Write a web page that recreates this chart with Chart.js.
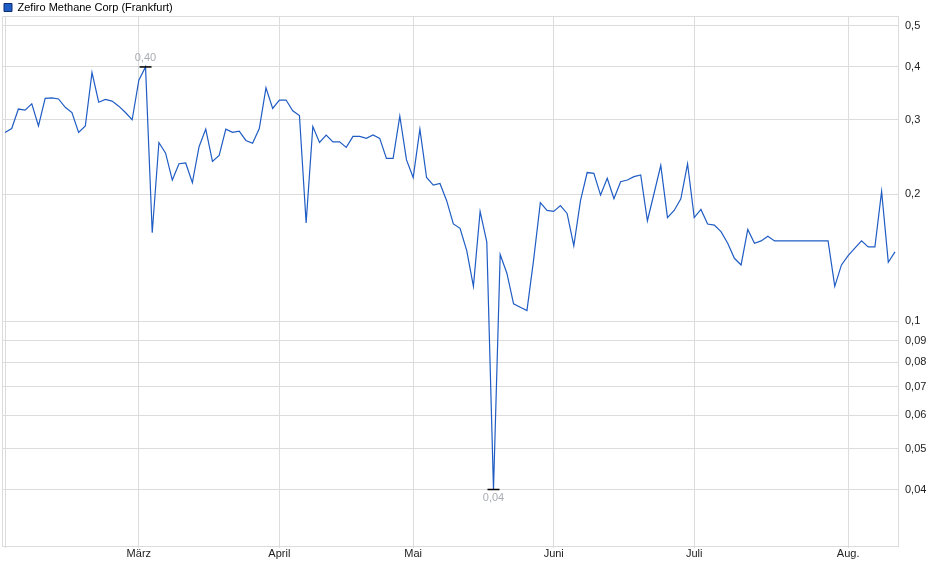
<!DOCTYPE html>
<html>
<head>
<meta charset="utf-8">
<script src="https://cdn.jsdelivr.net/npm/chart.js@4/dist/chart.umd.min.js"></script>
<style>
  body { margin: 0; background: #fff; }
  canvas { display: block; }
</style>
</head>
<body>
<canvas id="chart" width="940" height="579"></canvas>
<script>
const seriesName = "Zefiro Methane Corp (Frankfurt)";
const prices = [
  0.280, 0.286, 0.318, 0.316, 0.327, 0.290, 0.337, 0.338, 0.336, 0.321,
  0.312, 0.280, 0.290, 0.388, 0.330, 0.335, 0.332, 0.323, 0.312, 0.300,
  0.372, 0.400, 0.162, 0.265, 0.250, 0.216, 0.236, 0.237, 0.213, 0.259,
  0.285, 0.239, 0.247, 0.285, 0.280, 0.282, 0.268, 0.264, 0.286, 0.357,
  0.319, 0.334, 0.334, 0.315, 0.307, 0.171, 0.289, 0.265, 0.276, 0.266,
  0.266, 0.258, 0.274, 0.274, 0.271, 0.276, 0.271, 0.243, 0.243, 0.306,
  0.241, 0.219, 0.285, 0.219, 0.210, 0.212, 0.193, 0.170, 0.166, 0.147,
  0.121, 0.182, 0.154, 0.040, 0.144, 0.130, 0.110, 0.108, 0.106, 0.140,
  0.191, 0.183, 0.182, 0.188, 0.180, 0.151, 0.193, 0.225, 0.224, 0.199,
  0.218, 0.195, 0.214, 0.216, 0.220, 0.222, 0.173, 0.201, 0.234, 0.176,
  0.183, 0.195, 0.236, 0.176, 0.184, 0.170, 0.169, 0.163, 0.153, 0.141,
  0.136, 0.165, 0.153, 0.155, 0.159, 0.155, 0.155, 0.155, 0.155, 0.155,
  0.155, 0.155, 0.155, 0.155, 0.121, 0.136, 0.143, 0.149, 0.155, 0.150,
  0.150, 0.203, 0.138, 0.146
];
// Monatsanfang als Index des ersten Handelstages
const months = ["März", "April", "Mai", "Juni", "Juli", "Aug."];
const monthStarts = [20, 41, 61, 82, 103, 126];
const yTicks = [0.04, 0.05, 0.06, 0.07, 0.08, 0.09, 0.1, 0.2, 0.3, 0.4, 0.5];

const gridColor = "#dcdcdc";
const fontFamily = "'Liberation Sans', Arial, sans-serif";

const points = prices.map((v, i) => ({ x: i, y: v }));
const maxIdx = prices.indexOf(Math.max(...prices));
const minIdx = prices.indexOf(Math.min(...prices));
const fmt = (v, d) => (d == null ? String(v) : v.toFixed(d)).replace(".", ",");

// Rahmen oben/links, feste Legendenhoehe und Hoch/Tief-Beschriftung
const extras = {
  id: "extras",
  beforeUpdate(chart) {
    const lg = chart.legend;
    if (lg && !lg._fixed) {
      const fit = lg.fit.bind(lg);
      lg.fit = function () { fit(); this.height = 16; };
      lg._fixed = true;
    }
  },
  beforeDatasetsDraw(chart) {
    const { ctx, chartArea: a } = chart;
    ctx.save();
    ctx.strokeStyle = gridColor;
    ctx.lineWidth = 1;
    ctx.beginPath();
    ctx.moveTo(a.left + 0.5, a.bottom);
    ctx.lineTo(a.left + 0.5, a.top + 0.5);
    ctx.lineTo(a.right, a.top + 0.5);
    ctx.stroke();
    ctx.restore();
  },
  afterDatasetsDraw(chart) {
    const { ctx } = chart;
    const meta = chart.getDatasetMeta(0);
    ctx.save();
    ctx.font = "11px " + fontFamily;
    ctx.fillStyle = "#a8adb3";
    ctx.textAlign = "center";
    const hi = meta.data[maxIdx];
    ctx.textBaseline = "bottom";
    ctx.fillText(fmt(prices[maxIdx], 2), hi.x, hi.y - 3);
    const lo = meta.data[minIdx];
    ctx.textBaseline = "top";
    ctx.fillText(fmt(prices[minIdx], 2), lo.x, lo.y + 3);
    ctx.restore();
  }
};

new Chart(document.getElementById("chart"), {
  type: "line",
  data: {
    datasets: [{
      label: seriesName,
      data: points,
      borderColor: "#1f5cc4",
      backgroundColor: "#1f5cc4",
      borderWidth: 1.2,
      tension: 0,
      pointStyle: "line",
      pointRadius: (c) => (c.dataIndex === maxIdx || c.dataIndex === minIdx ? 6 : 0),
      pointBorderColor: "#000",
      pointBorderWidth: 1.5,
      pointHoverRadius: 0
    }]
  },
  options: {
    responsive: false,
    animation: false,
    layout: { padding: { left: 2, top: 0 } },
    plugins: {
      tooltip: { enabled: false },
      legend: {
        position: "top",
        align: "start",
        labels: {
          boxWidth: 8,
          boxHeight: 8,
          padding: 2,
          color: "#000",
          font: { size: 11, family: fontFamily },
          generateLabels: () => [{
            text: seriesName,
            fillStyle: "#1f5cc4",
            strokeStyle: "#0d2f73",
            lineWidth: 1,
            datasetIndex: 0
          }]
        }
      }
    },
    scales: {
      x: {
        type: "linear",
        min: -0.45,
        max: prices.length - 1 + 0.45,
        afterBuildTicks: (s) => { s.ticks = [0, ...monthStarts].map((v) => ({ value: v })); },
        afterFit: (s) => { s.height = 33; },
        ticks: {
          autoSkip: false,
          maxRotation: 0,
          padding: -1,
          color: "#222",
          font: { size: 11, family: fontFamily },
          callback: (v) => { const k = monthStarts.indexOf(v); return k < 0 ? "" : months[k]; }
        },
        grid: { color: gridColor, tickLength: 2, tickColor: gridColor },
        border: { color: gridColor }
      },
      y: {
        type: "logarithmic",
        position: "right",
        min: 0.0294,
        max: 0.528,
        afterBuildTicks: (s) => { s.ticks = yTicks.map((v) => ({ value: v })); },
        afterFit: (s) => { s.width = 42; },
        ticks: {
          autoSkip: false,
          padding: 7,
          color: "#222",
          font: { size: 11, family: fontFamily },
          callback: (v) => fmt(v)
        },
        grid: { color: gridColor, drawTicks: false },
        border: { color: gridColor }
      }
    }
  },
  plugins: [extras]
});
</script>
</body>
</html>
